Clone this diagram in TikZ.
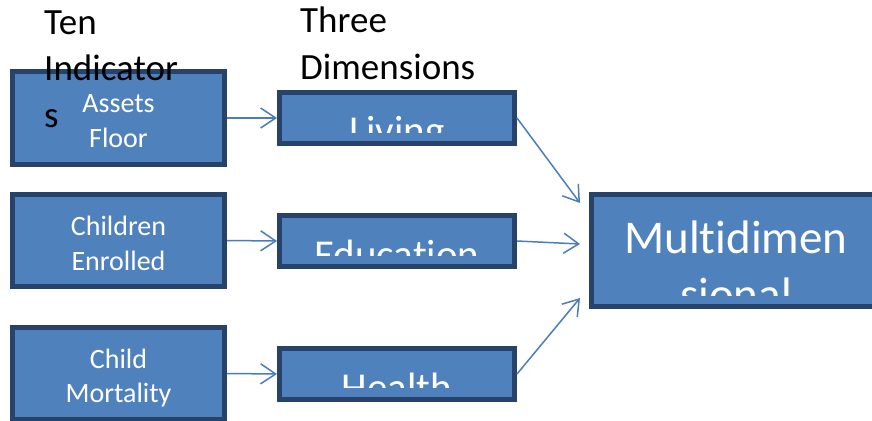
\documentclass[tikz,border=0pt]{standalone}
\usepackage{fontspec}
\setmainfont{Carlito}[Ligatures={NoCommon,NoContextual}]
\usetikzlibrary{arrows.meta,calc}
\definecolor{fillblue}{HTML}{4F81BD}
\definecolor{edgeblue}{HTML}{27436A}
\definecolor{arrowblue}{HTML}{4A7EBB}
\tikzset{
  box/.style={draw=edgeblue, fill=fillblue, line width=5pt, inner sep=0pt},
  smalltxt/.style={text=white, inner sep=0pt, anchor=base, font=\fontsize{28}{34}\selectfont},
  bigtxt/.style={text=white, inner sep=0pt, anchor=base, font=\fontsize{41}{50}\selectfont},
  hugetxt/.style={text=white, inner sep=0pt, anchor=base, font=\fontsize{47}{57}\selectfont},
  headtxt/.style={text=black, inner sep=0pt, anchor=base west, font=\fontsize{37}{46}\selectfont},
  conn/.style={draw=arrowblue, line width=1.5pt, -{Straight Barb[length=15pt,width=20pt,line width=1.5pt]}}
}
\begin{document}
\begin{tikzpicture}[x=1pt,y=-1pt]
\clip (0,0) rectangle (872,420);
\fill[white] (0,0) rectangle (872,420);
% indicator boxes
\node[box, minimum width=212pt, minimum height=93pt] (b1) at (118.5,118) {};
\node[box, minimum width=212pt, minimum height=92pt] (b2) at (118.5,240.5) {};
\node[box, minimum width=212pt, minimum height=92pt] (b3) at (118.5,373.5) {};
\node[smalltxt] (b1a) at (118.5,112) {Assets};
\node[smalltxt] (b1b) at (118.5,147) {Floor};
\node[smalltxt] (b2a) at (118.5,235) {Children};
\node[smalltxt] (b2b) at (118.5,270) {Enrolled};
\node[smalltxt] (b3a) at (118.5,368) {Child};
\node[smalltxt] (b3b) at (118.5,402) {Mortality};
% dimension boxes
\node[box, minimum width=235pt, minimum height=51pt] (liv) at (397,118) {};
\node[box, minimum width=235pt, minimum height=51pt] (edu) at (397,241) {};
\node[box, minimum width=235pt, minimum height=51pt] (hea) at (397,374) {};
\begin{scope}
\clip (277,90) rectangle (517,132);
\node[bigtxt] (livt) at (397,144.5) {Living};
\end{scope}
\begin{scope}
\clip (277,213) rectangle (517,255);
\node[bigtxt] (edut) at (397,268) {Education};
\end{scope}
\begin{scope}
\clip (277,346) rectangle (517,387);
\node[bigtxt] (heat) at (397,401) {Health};
\end{scope}
% multidimensional box
\node[box, minimum width=311pt, minimum height=112pt] (mul) at (747,250.5) {};
\begin{scope}
\clip (589,192) rectangle (872,295);
\node[hugetxt] (mult1) at (736,253) {Multidimen};
\node[hugetxt] (mult2) at (736,310) {sional};
\end{scope}
% connectors
\draw[conn] (b1.east) -- (liv.west);
\draw[conn] (b2.east) -- (edu.west);
\draw[conn] (b3.east) -- (hea.west);
\coordinate (t1) at ($(mul.north west)+(-9,11)$);
\coordinate (t2) at ($(mul.west)+(-9,-6.5)$);
\coordinate (t3) at ($(mul.south west)+(-9,-11)$);
\draw[conn] (liv.east) -- (t1);
\draw[conn] (edu.east) -- (t2);
\draw[conn] (hea.east) -- (t3);
% headers
\node[headtxt] (h1a) at (44,35) {Ten};
\node[headtxt] (h1b) at (44,81) {Indicator};
\node[headtxt] (h1c) at (44,127) {s};
\node[headtxt] (h2a) at (300,33) {Three};
\node[headtxt] (h2b) at (300,79) {Dimensions};
\end{tikzpicture}
\end{document}
